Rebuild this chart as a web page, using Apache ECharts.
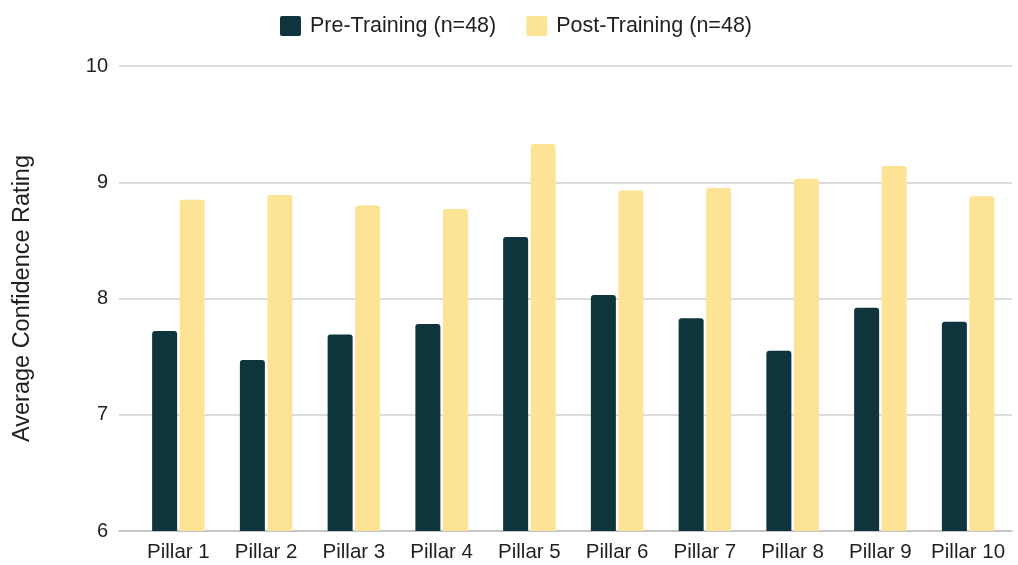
<!DOCTYPE html>
<html>
<head>
<meta charset="utf-8">
<script src="https://cdn.jsdelivr.net/npm/echarts@6/dist/echarts.min.js"></script>
<style>
html,body{margin:0;padding:0;background:#fff;}
#chart{width:1018px;height:565px;}
</style>
</head>
<body>
<div id="chart"></div>
<script>
const categories = ["Pillar 1","Pillar 2","Pillar 3","Pillar 4","Pillar 5","Pillar 6","Pillar 7","Pillar 8","Pillar 9","Pillar 10"];
const preTraining = [7.72, 7.47, 7.69, 7.78, 8.53, 8.03, 7.83, 7.55, 7.92, 7.80];
const postTraining = [8.85, 8.89, 8.80, 8.77, 9.33, 8.93, 8.95, 9.03, 9.14, 8.88];
const seriesNames = ["Pre-Training (n=48)", "Post-Training (n=48)"];
const yMin = 6, yMax = 10, yInterval = 1;
const yTitle = "Average Confidence Rating";

const font = "Liberation Sans, Arial, sans-serif";
const chart = echarts.init(document.getElementById('chart'), null, {renderer:'canvas'});
chart.setOption({
  animation:false,
  backgroundColor:'#ffffff',
  textStyle:{fontFamily:font},
  legend:{
    left:275, top:10,
    itemWidth:21, itemHeight:20, itemGap:30,
    textStyle:{fontSize:21.5, color:'#1f1f1f', fontFamily:font, padding:[0,0,0,4]},
    data:seriesNames.map(n=>({name:n, icon:'path://M2,0 L19,0 Q21,0 21,2 L21,18 Q21,20 19,20 L2,20 Q0,20 0,18 L0,2 Q0,0 2,0 Z'}))
  },
  grid:[
    {left:134.5, right:6, top:66, bottom:34},
    {left:119, right:6, top:66, bottom:34}
  ],
  xAxis:[
    {type:'category', gridIndex:0, data:categories,
     axisLine:{show:false}, axisTick:{show:false},
     axisLabel:{fontSize:20.5, color:'#1f1f1f', margin:11, fontFamily:font, interval:0}},
    {type:'category', gridIndex:1, data:categories,
     axisLine:{show:true, lineStyle:{color:'#bdbdbd', width:1.5}}, axisTick:{show:false},
     axisLabel:{show:false}}
  ],
  yAxis:[
    {type:'value', gridIndex:0, min:yMin, max:yMax, interval:yInterval,
     axisLabel:{show:false}, splitLine:{show:false}, axisLine:{show:false}, axisTick:{show:false}},
    {type:'value', gridIndex:1, min:yMin, max:yMax, interval:yInterval,
     name:yTitle, nameLocation:'middle', nameGap:84, nameRotate:90,
     nameTextStyle:{fontSize:23.5, color:'#1f1f1f', fontFamily:font},
     axisLabel:{fontSize:20, color:'#1f1f1f', margin:11, fontFamily:font},
     splitLine:{lineStyle:{color:'#d0d0d0', width:1.5}},
     axisLine:{show:false}, axisTick:{show:false}}
  ],
  series:[
    {name:seriesNames[0], type:'bar', xAxisIndex:0, yAxisIndex:0, data:preTraining,
     barWidth:25, barGap:'10%', itemStyle:{color:'#0e343c', borderRadius:[3,3,0,0]}},
    {name:seriesNames[1], type:'bar', xAxisIndex:0, yAxisIndex:0, data:postTraining,
     barWidth:25, barGap:'10%', itemStyle:{color:'#fde396', borderRadius:[3,3,0,0]}}
  ]
});
</script>
</body>
</html>
